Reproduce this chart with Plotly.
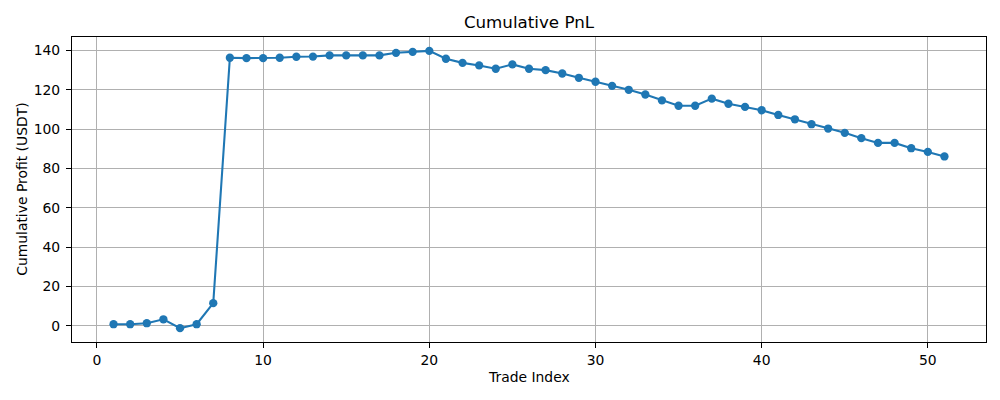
import plotly.graph_objects as go

trade_index = list(range(1, 52))
cum_profit = [
    0.8, 0.8, 1.3, 3.3, -1.2, 0.8, 11.5, 136.3, 136.1, 136.1,
    136.3, 136.8, 136.9, 137.5, 137.5, 137.5, 137.5, 138.8, 139.3, 139.8,
    135.8, 133.7, 132.4, 130.7, 132.9, 130.7, 130.0, 128.3, 126.1, 124.1,
    122.0, 120.0, 117.6, 114.6, 111.9, 111.9, 115.5, 112.9, 111.3, 109.6,
    107.2, 105.0, 102.5, 100.3, 98.1, 95.4, 93.0, 93.0, 90.3, 88.4,
    86.1,
]
x_ticks = [0, 10, 20, 30, 40, 50]
y_ticks = [0, 20, 40, 60, 80, 100, 120, 140]

FONT = "DejaVu Sans"
BLUE = "#1f77b4"

# page body has an 8px margin, so the figure is drawn offset by (8, 8)
OFF = 8
W, H = 984, 384

fig = go.Figure()
fig.add_trace(go.Scatter(
    x=trade_index, y=cum_profit, mode="lines+markers",
    line=dict(color=BLUE, width=2.08),
    marker=dict(color=BLUE, size=8.3, line=dict(width=0)),
    showlegend=False,
))

axis_common = dict(
    showline=True, linecolor="black", linewidth=1.1, mirror=True,
    ticks="outside", ticklen=5, tickwidth=1.1, tickcolor="black",
    showgrid=True, gridcolor="#b0b0b0", gridwidth=1.1,
    zeroline=False,
    tickfont=dict(family=FONT, size=13.9, color="black"),
)

xmin, xmax = min(trade_index), max(trade_index)
xpad = (xmax - xmin) * 0.05
ymin, ymax = min(cum_profit), max(cum_profit)
ypad = (ymax - ymin) * 0.05

fig.update_xaxes(range=[xmin - xpad, xmax + xpad], tickvals=x_ticks, **axis_common)
fig.update_yaxes(range=[ymin - ypad, ymax + ypad], tickvals=y_ticks,
                 ticklabelstandoff=3, **axis_common)

left, top, right, bottom = 72 - OFF, 37.3 - OFF, 985.7 - OFF, 342.3 - OFF

fig.update_layout(
    width=W, height=H,
    margin=dict(l=left, r=W - right, t=top, b=H - bottom),
    paper_bgcolor="white", plot_bgcolor="white",
    font=dict(family=FONT, color="black"),
    title=dict(text="Cumulative PnL", x=0.5, xref="paper", xanchor="center",
               y=1 - (22.5 - OFF) / H, yref="container", yanchor="middle",
               font=dict(family=FONT, size=16.7, color="black")),
    annotations=[
        dict(text="Trade Index", x=0.5, xref="paper", y=0, yref="paper",
             xanchor="center", yanchor="middle", yshift=-35, showarrow=False,
             font=dict(family=FONT, size=13.9, color="black")),
        dict(text="Cumulative Profit (USDT)", x=0, xref="paper", y=0.5, yref="paper",
             xanchor="center", yanchor="middle", xshift=-50.7, textangle=-90,
             showarrow=False, font=dict(family=FONT, size=13.9, color="black")),
    ],
)

fig.write_html("out.html")
